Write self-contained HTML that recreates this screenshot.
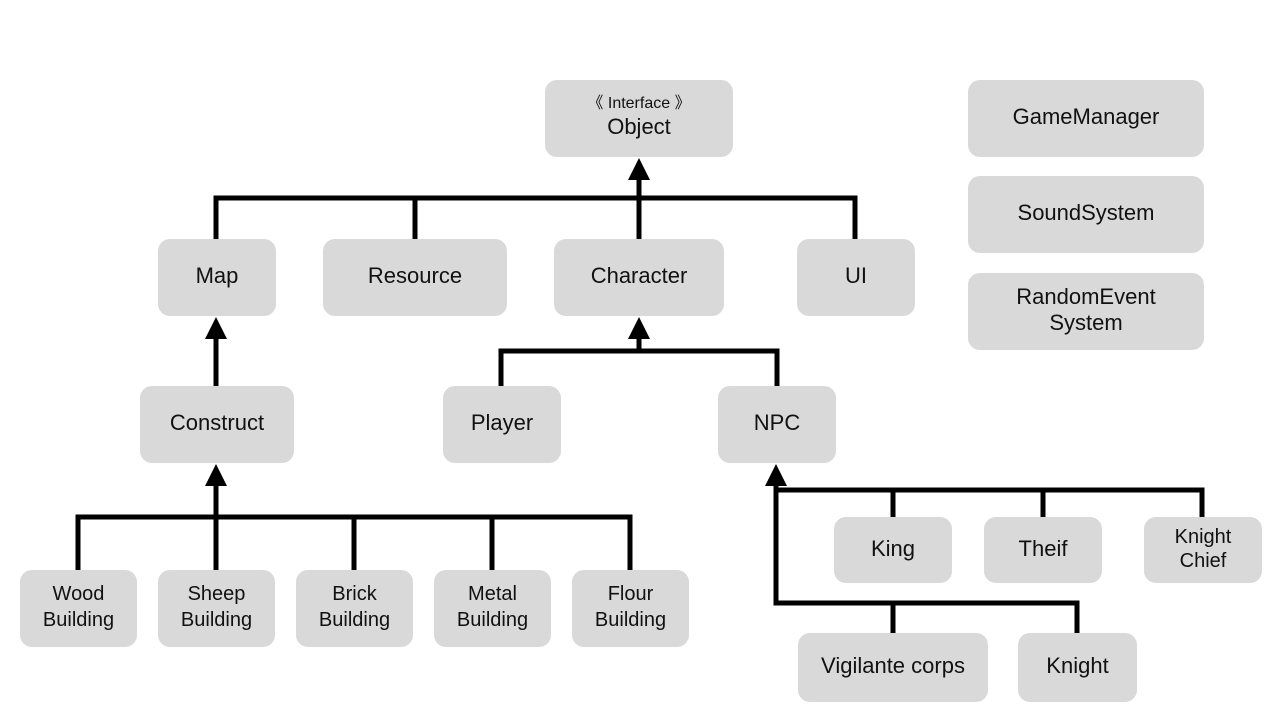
<!DOCTYPE html>
<html><head><style>
body{margin:0;width:1280px;height:720px;background:#fff;position:relative;overflow:hidden;font-family:"Liberation Sans",sans-serif;}
.b{position:absolute;background:#d9d9d9;border-radius:12px;display:flex;align-items:center;justify-content:center;text-align:center;font-size:22px;color:#111;line-height:26px;box-sizing:border-box;padding-bottom:3px;}
svg{position:absolute;left:0;top:0}
</style></head><body>
<svg width="1280" height="720">
<g stroke="#000" stroke-width="5" fill="none">
<path d="M216 239V198H855V239M415 198V239M639 239V175"/>
<path d="M216 386V334"/>
<path d="M501 386V351H777V386M639 351V334"/>
<path d="M78 570V517H630V570M216 570V517M354 570V517M492 570V517M216 517V481"/>
<path d="M776 481V603H1077V633M893 603V633M776 490H1202V517M893 490V517M1043 490V517"/>
</g>
<g fill="#000">
<polygon points="639,158 628,180 650,180"/>
<polygon points="216,317 205,339 227,339"/>
<polygon points="639,317 628,339 650,339"/>
<polygon points="216,464 205,486 227,486"/>
<polygon points="776,464 765,486 787,486"/>
</g>
</svg>
<div class="b" style="left:545px;top:80px;width:188px;height:77px;flex-direction:column"><span style="font-size:16px;line-height:20px">《 Interface 》</span><span>Object</span></div>
<div class="b" style="left:968px;top:80px;width:236px;height:77px">GameManager</div>
<div class="b" style="left:968px;top:176px;width:236px;height:77px">SoundSystem</div>
<div class="b" style="left:968px;top:273px;width:236px;height:77px">RandomEvent<br>System</div>
<div class="b" style="left:158px;top:239px;width:118px;height:77px">Map</div>
<div class="b" style="left:323px;top:239px;width:184px;height:77px">Resource</div>
<div class="b" style="left:554px;top:239px;width:170px;height:77px">Character</div>
<div class="b" style="left:797px;top:239px;width:118px;height:77px">UI</div>
<div class="b" style="left:140px;top:386px;width:154px;height:77px">Construct</div>
<div class="b" style="left:443px;top:386px;width:118px;height:77px">Player</div>
<div class="b" style="left:718px;top:386px;width:118px;height:77px">NPC</div>
<div class="b" style="left:834px;top:517px;width:118px;height:66px">King</div>
<div class="b" style="left:984px;top:517px;width:118px;height:66px">Theif</div>
<div class="b" style="left:1144px;top:517px;width:118px;height:66px;font-size:20px;line-height:24px">Knight<br>Chief</div>
<div class="b" style="left:798px;top:633px;width:190px;height:69px">Vigilante corps</div>
<div class="b" style="left:1018px;top:633px;width:119px;height:69px">Knight</div>
<div class="b" style="left:20px;top:570px;width:117px;height:77px;font-size:20px">Wood<br>Building</div>
<div class="b" style="left:158px;top:570px;width:117px;height:77px;font-size:20px">Sheep<br>Building</div>
<div class="b" style="left:296px;top:570px;width:117px;height:77px;font-size:20px">Brick<br>Building</div>
<div class="b" style="left:434px;top:570px;width:117px;height:77px;font-size:20px">Metal<br>Building</div>
<div class="b" style="left:572px;top:570px;width:117px;height:77px;font-size:20px">Flour<br>Building</div>
</body></html>
